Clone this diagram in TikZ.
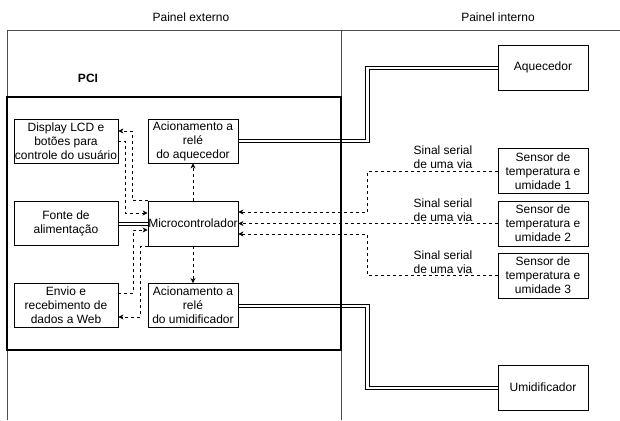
\documentclass[tikz,border=0pt]{standalone}
\usepackage{fontspec}
\setmainfont{Liberation Sans}
\usepackage{tikz}
\usetikzlibrary{arrows.meta,calc}

\tikzset{
	texto/.style={font=\fontsize{12}{14}\selectfont, align=center, inner sep=0pt},
	bloco/.style={texto, draw, fill=white, line width=0.8pt, minimum height=44pt},
	raia/.style={draw=black!70, line width=0.9pt},
	sinal/.style={-{Stealth[length=5pt, width=5pt, inset=1.5pt]}, line width=0.75pt, dash pattern=on 3pt off 3pt},
	fio/.style={line width=0.8pt}
}

\begin{document}
\begin{tikzpicture}[x=1pt, y=-1pt]
				\useasboundingbox (0,0) rectangle (620,420);
				% Paineis:
				\draw[raia] (7,420) -- (7,30) -- (620,30);
				\draw[raia] (341,30) -- (341,420);
				\node[texto](T1) at (191,17){Painel externo};
				\node[texto](T2) at (498,17){Painel interno};
				\draw[line width=2pt] (7,97) rectangle (341,350);
				\node[texto, font=\fontsize{12}{14}\selectfont\bfseries](PCI) at (88,78){PCI};
				% Blocos da PCI:
				\node[bloco, minimum width=104pt](disp) at (66,141){Display LCD e\\botões para\\controle do usuário};
				\node[bloco, minimum width=104pt](fonte) at (66,223.5){Fonte de\\alimentação};
				\node[bloco, minimum width=104pt](envio) at (66,305.5){Envio e\\recebimento de\\dados a Web};
				\node[bloco, minimum width=90pt](relaq) at (193,141){Acionamento a\\relé\\do aquecedor};
				\node[bloco, minimum width=90pt, minimum height=45pt](micro) at (193,223.5){Microcontrolador};
				\node[bloco, minimum width=90pt](relum) at (193,305.5){Acionamento a\\relé\\do umidificador};
				% Painel interno:
				\node[bloco, minimum width=90pt, minimum height=45pt](aquec) at (543,67.5){Aquecedor};
				\node[bloco, minimum width=90pt, minimum height=45pt](sen1) at (543,171){Sensor de\\temperatura e\\umidade 1};
				\node[bloco, minimum width=90pt, minimum height=45pt](sen2) at (543,223.5){Sensor de\\temperatura e\\umidade 2};
				\node[bloco, minimum width=90pt, minimum height=45pt](sen3) at (543,275.5){Sensor de\\temperatura e\\umidade 3};
				\node[bloco, minimum width=90pt, minimum height=45pt](umid) at (543,387.5){Umidificador};
				% Sinais:
				\draw[sinal] (micro.north west) -- ++(-15,0) |- ($(disp.east)+(0,-10)$);
				\draw[sinal] (disp.east) -- ++(7,0) |- ($(micro.west)+(0,-10.5)$);
				\draw[sinal] ($(envio.east)+(0,-12.5)$) -- ++(15,0) |- ($(micro.west)+(0,6.5)$);
				\draw[sinal] (micro.south west) -- ++(-7,0) |- ($(envio.east)+(0,11.5)$);
				\draw[sinal] (micro.north) -- (relaq.south);
				\draw[sinal] (micro.south) -- (relum.north);
				\draw[sinal] (sen1.west) -- ++(-130,0) |- ($(micro.east)+(0,-11.5)$);
				\draw[sinal] (sen2.west) -- (micro.east);
				\draw[sinal] (sen3.west) -- ++(-130,0) |- ($(micro.east)+(0,10.5)$);
				\node[texto](L1) at (443,157){Sinal serial\\de uma via};
				\node[texto](L2) at (443,210){Sinal serial\\de uma via};
				\node[texto](L3) at (443,262){Sinal serial\\de uma via};
				% Alimentacao (linhas duplas):
				\draw[fio] ($(fonte.east)+(0,-1.6)$) -- ($(micro.west)+(0,-1.6)$);
				\draw[fio] ($(fonte.east)+(0,1.6)$) -- ($(micro.west)+(0,1.6)$);
				\draw[fio] ($(relaq.east)+(0,-1.6)$) -- ++(127.4,0) |- ($(aquec.west)+(0,-1.6)$);
				\draw[fio] ($(relaq.east)+(0,1.6)$) -- ++(130.6,0) |- ($(aquec.west)+(0,1.6)$);
				\draw[fio] ($(relum.east)+(0,-1.6)$) -- ++(130.6,0) |- ($(umid.west)+(0,-1.6)$);
				\draw[fio] ($(relum.east)+(0,1.6)$) -- ++(127.4,0) |- ($(umid.west)+(0,1.6)$);
			\end{tikzpicture}
\end{document}
